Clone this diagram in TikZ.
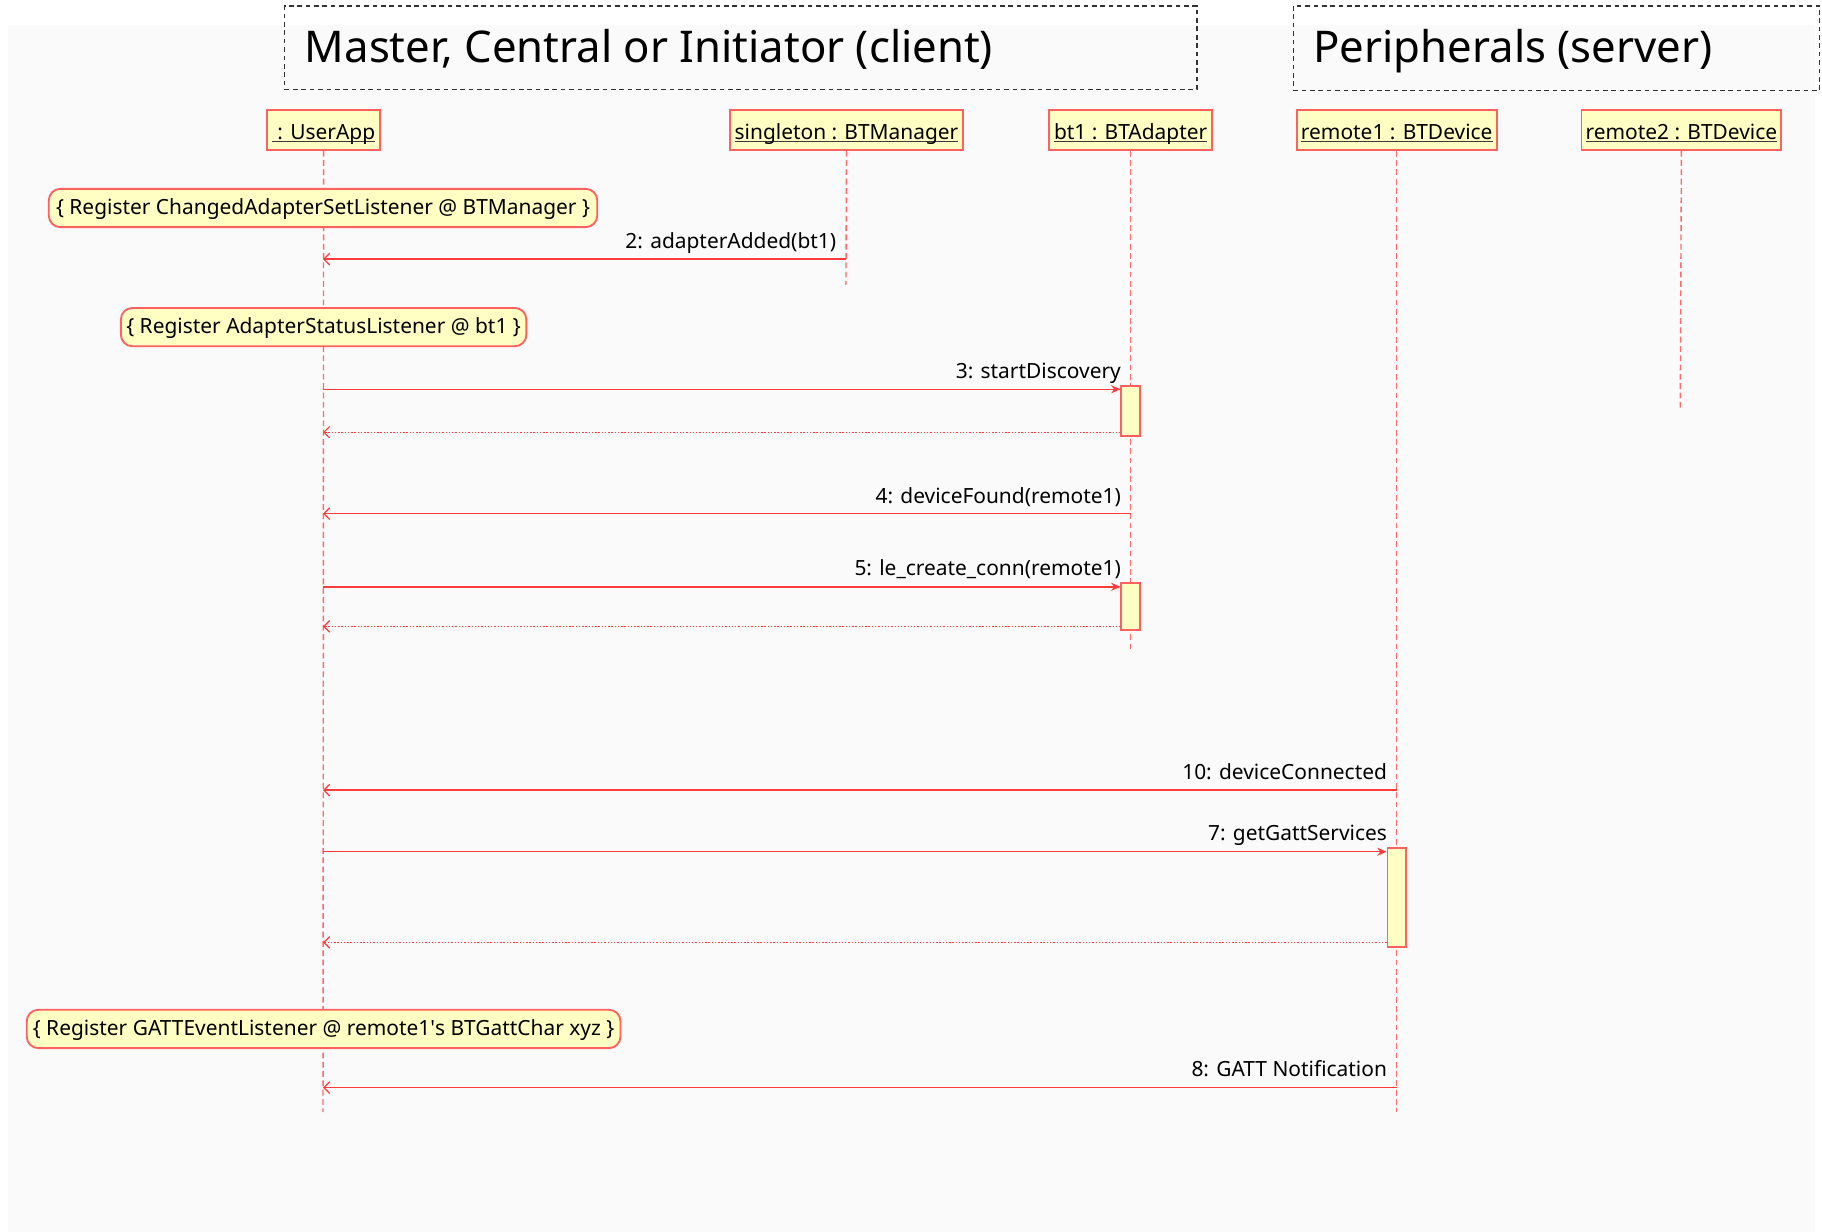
\documentclass[tikz,border=0pt]{standalone}
\usepackage{fontspec}
\setmainfont{Noto Sans}
\newfontfamily\nsq{Noto Sans}[Ligatures=ResetAll]
\usetikzlibrary{arrows.meta}
\definecolor{bgc}{HTML}{FAFAFA}
\definecolor{lnc}{HTML}{FF3B3B}
\definecolor{llc}{HTML}{FF6A6A}
\definecolor{bdc}{HTML}{FF6060}
\definecolor{fillc}{HTML}{FFFFC4}
\definecolor{hdc}{HTML}{333333}
\definecolor{ulc}{HTML}{3A3A3A}
\newcommand\myul[1]{\setbox0\hbox{#1}\rlap{\color{ulc}\rule[-1.2pt]{\wd0}{0.55pt}}\box0}
\begin{document}
\begin{tikzpicture}[x=0.5pt,y=-0.5pt,
  txt/.style={font=\fontsize{9}{11}\selectfont, text=black, inner sep=0pt},
  head/.style={draw=bdc, fill=fillc, line width=0.8pt, minimum height=17pt, inner sep=0pt, text height=8pt, text depth=0pt, font=\fontsize{9}{11}\selectfont},
  notebox/.style={draw=bdc, fill=fillc, line width=0.8pt, rounded corners=5pt, minimum height=16.5pt, inner sep=0pt, text height=7.5pt, text depth=1.9pt, font=\fontsize{9}{11}\selectfont},
  actbox/.style={draw=bdc, fill=fillc, line width=0.8pt, minimum width=8pt, inner sep=0pt},
  lifeline/.style={draw=llc, line width=0.6pt, dash pattern=on 2.5pt off 1.5pt},
  sync/.style={draw=lnc, line width=0.6pt, -{Stealth[length=4pt,width=3.5pt]}},
  async/.style={draw=lnc, line width=0.6pt, -{Straight Barb[length=2.5pt,width=5pt,line width=0.5pt]}},
  retmsg/.style={draw=lnc, line width=0.6pt, dash pattern=on 0.6pt off 0.8pt, -{Straight Barb[length=2.5pt,width=5pt,line width=0.5pt,sep=0pt]}},
  hdrbox/.style={draw=hdc, line width=0.6pt, dash pattern=on 2pt off 1.6pt, inner sep=0pt},
  hdrtxt/.style={font=\fontsize{18.8}{22}\selectfont, inner sep=0pt, anchor=base west},
  lbl/.style={txt, anchor=base east}
]
\useasboundingbox (0,0) rectangle (1568,1060);
\fill[white] (0,0) rectangle (1568,1060);
\fill[bgc] (7,21.5) rectangle (1562,1060);

% header boxes
\node[hdrbox, minimum width=392.5pt, minimum height=36pt] (h1) at (637.5,41) {};
\node[hdrtxt] (h1t) at (262,54) {Master, Central or Initiator (client)};
\node[hdrbox, minimum width=226.5pt, minimum height=36.5pt] (h2) at (1339.5,41.5) {};
\node[hdrtxt] (h2t) at (1130,54) {Peripherals (server)};

% lifeline heads
\node[head, minimum width=48.5pt] (ua) at (278.5,112) {\myul{\ : UserApp}};
\node[head, minimum width=100.5pt] (mgr) at (728.5,112) {\myul{singleton : BTManager}};
\node[head, minimum width=70pt] (bt) at (973,112) {\myul{bt1 : BTAdapter}};
\node[head, minimum width=86pt] (ra) at (1202,112) {\myul{remote1 : BTDevice}};
\node[head, minimum width=86pt] (rb) at (1447,112) {\myul{remote2 : BTDevice}};

% lifeline ends
\coordinate (uaE) at (278,957);
\coordinate (mgrE) at (728,245);
\coordinate (btE) at (973,560);
\coordinate (raE) at (1202,957);
\coordinate (rbE) at (1446,353);
\draw[lifeline] (ua.south) -- (uaE);
\draw[lifeline] (mgr.south) -- (mgrE);
\draw[lifeline] (bt.south) -- (btE);
\draw[lifeline] (ra.south) -- (raE);
\draw[lifeline] (rb.south) -- (rbE);

% notes
\node[notebox, minimum width=236pt] (n1) at (278,179) {\{ Register ChangedAdapterSetListener @ BTManager \}};
\node[notebox, minimum width=174.5pt] (n2) at (278.5,281.5) {\{ Register AdapterStatusListener @ bt1 \}};
\node[notebox, minimum width=255.5pt] (n3) at (278.5,885.5) {\{ Register GATTEventListener @ remote1{\nsq'}s BTGattChar xyz \}};

% activation boxes
\node[actbox, minimum height=21.5pt] (a1) at (973,353.5) {};
\node[actbox, minimum height=20pt] (a2) at (973,522) {};
\node[actbox, minimum height=42.5pt] (a3) at (1202,772.5) {};

% message 2
\coordinate (m2s) at (728,223);
\coordinate (m2e) at (278,223);
\draw[async] (m2s) -- (m2e);
\node[lbl] (l2) at (720,214) {2: adapterAdded(bt1)};

% message 3
\coordinate (m3s) at (278,335);
\draw[sync] (m3s) -- (m3s -| a1.west);
\node[lbl] (l3) at (965,326) {3: startDiscovery};
\coordinate (r3e) at (278,372);
\draw[retmsg] (r3e -| a1.west) -- (r3e);

% message 4
\coordinate (m4s) at (973,442);
\coordinate (m4e) at (278,442);
\draw[async] (m4s) -- (m4e);
\node[lbl] (l4) at (965,433) {4: deviceFound(remote1)};

% message 5
\coordinate (m5s) at (278,505);
\draw[sync] (m5s) -- (m5s -| a2.west);
\node[lbl] (l5) at (965,495) {5: le\_create\_conn(remote1)};
\coordinate (r5e) at (278,539);
\draw[retmsg] (r5e -| a2.west) -- (r5e);

% message 10
\coordinate (m10s) at (1202,680);
\coordinate (m10e) at (278,680);
\draw[async] (m10s) -- (m10e);
\node[lbl] (l10) at (1194,671) {10: deviceConnected};

% message 7
\coordinate (m7s) at (278,733);
\draw[sync] (m7s) -- (m7s -| a3.west);
\node[lbl] (l7) at (1194,723) {7: getGattServices};
\coordinate (r7e) at (278,811);
\draw[retmsg] (r7e -| a3.west) -- (r7e);

% message 8
\coordinate (m8s) at (1202,936);
\coordinate (m8e) at (278,936);
\draw[async] (m8s) -- (m8e);
\node[lbl] (l8) at (1194,926) {8: GATT Notification};
\end{tikzpicture}
\end{document}
